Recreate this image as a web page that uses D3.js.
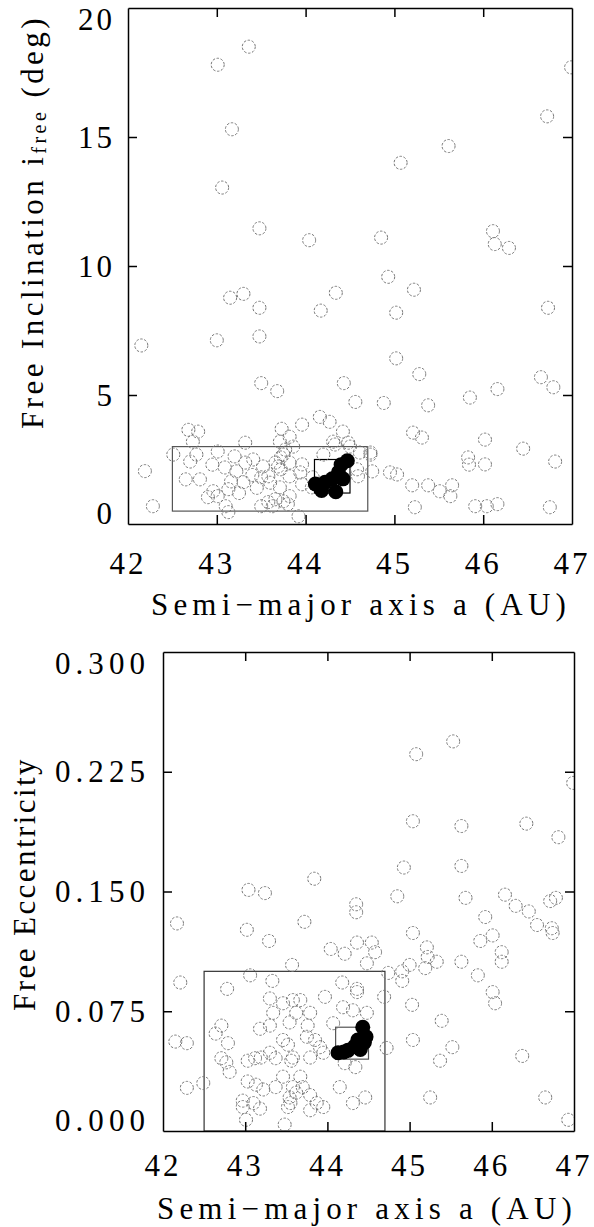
<!DOCTYPE html>
<html>
<head>
<meta charset="utf-8">
<script src="https://cdn.jsdelivr.net/npm/d3@7"></script>
<style>
  body { margin: 0; background: #fff; }
  svg { display: block; }
  text { font-family: "Liberation Serif", "DejaVu Serif", serif; fill: #000; }
</style>
</head>
<body>
<svg width="594" height="1227"></svg>
<script>
// semi-major axis ticks, shared by both panels
var aTicks = [42, 43, 44, 45, 46, 47];
var incTicks = [0, 5, 10, 15, 20];
var eccTicks = [0, 0.075, 0.15, 0.225, 0.3];

// top panel: [a (AU), free inclination (deg)]
var incOpen = [
  [43.36,18.5],[43.01,17.8],[46.99,17.7],[46.72,15.8],[43.17,15.3],[45.61,14.65],[45.07,14.0],[43.06,13.04],
  [43.48,11.46],[44.04,11.0],[44.85,11.1],[46.11,11.35],[46.13,10.85],[46.29,10.7],[44.93,9.58],
  [43.15,8.77],[43.30,8.92],[44.34,8.96],[45.22,9.08],[43.48,8.38],[44.17,8.27],[45.02,8.19],[46.73,8.38],
  [42.15,6.92],[43.0,7.12],[43.48,7.27],[45.02,6.42],[45.28,5.81],[46.65,5.69],[46.79,5.3],
  [43.5,5.46],[43.68,5.15],[44.43,5.46],[46.16,5.23],[45.85,4.9],[44.88,4.69],[45.38,4.6],[44.56,4.73],
  [44.16,4.15],[43.96,3.85],[44.27,3.96],[43.73,3.69],[44.42,3.58],[44.31,3.19],[44.48,3.15],[43.82,3.38],[43.32,3.15],
  [42.68,3.65],[42.79,3.58],[42.73,3.19],[45.21,3.54],[45.31,3.35],[46.02,3.27],[46.45,2.92],
  [45.83,2.58],[45.84,2.3],[46.02,2.31],[46.81,2.42],[42.19,2.05],[42.28,0.69],
  [44.95,2.0],[45.03,1.92],[45.2,1.5],[45.38,1.5],[45.51,1.27],[45.65,1.5],[45.63,1.08],
  [45.23,0.65],[45.91,0.69],[46.04,0.69],[46.16,0.77],[46.75,0.65],[44.73,2.69],[44.75,2.04],[44.59,1.85],
  [42.51,2.69],[42.77,2.69],[42.7,2.42],[43.01,2.81],[43.2,2.62],[43.32,2.38],[43.41,2.5],[43.52,2.23],[43.66,2.38],[43.72,2.58],
  [43.09,2.19],[43.22,2.04],[43.5,1.81],[43.58,1.85],[43.72,2.12],[42.65,1.73],[42.81,1.73],[43.16,1.65],[43.30,1.62],
  [43.13,1.35],[42.96,1.27],[42.9,1.04],[43.01,1.08],[43.1,0.69],[43.13,0.46],[43.58,0.85],[43.66,0.96],[43.5,0.69],[43.75,0.88],
  [43.77,2.88],[43.71,3.19],[43.86,3.0],[43.75,2.69],[43.69,2.23],[43.82,2.38],[43.96,2.31],[43.82,1.85],[43.94,2.0],
  [43.96,1.54],[44.07,1.42],[43.71,1.42],[43.82,1.08],[43.8,0.77],[43.92,0.3],[44.2,2.69],[44.33,3.08],[44.5,3.0],
  [44.61,2.77],[44.73,2.77],[44.58,2.12],[44.08,1.81],[43.63,0.69],[43.4,1.9],[43.45,1.4],[43.25,1.2],[42.95,2.3],[43.6,1.6]
];
var incFilled = [
  [44.11,1.55],[44.18,1.3],[44.22,1.62],[44.3,1.75],[44.34,1.25],[44.37,2.0],[44.42,1.75],[44.4,2.3],[44.47,2.45]
];

// bottom panel: [a (AU), free eccentricity]
var eccOpen = [
  [45.08,0.236],[45.53,0.244],[46.99,0.218],
  [45.04,0.194],[45.63,0.191],[46.42,0.1925],[46.81,0.184],[44.93,0.165],[45.63,0.166],[43.84,0.158],
  [43.04,0.151],[43.24,0.149],[44.85,0.147],[45.68,0.146],[46.16,0.148],[46.29,0.141],[46.45,0.1375],
  [46.71,0.144],[46.78,0.146],[44.35,0.142],[44.35,0.137],[42.17,0.13],[43.72,0.131],[45.92,0.134],
  [46.55,0.129],[46.73,0.127],[46.74,0.124],[43.02,0.126],[43.29,0.119],[45.04,0.124],[45.86,0.119],[46.01,0.1225],
  [44.04,0.114],[44.21,0.111],[44.36,0.118],[44.54,0.118],[44.58,0.112],[44.48,0.105],[43.57,0.104],
  [45.21,0.115],[45.22,0.109],[45.33,0.106],[45.0,0.104],[44.91,0.1],[44.74,0.099],[45.19,0.102],[45.63,0.106],
  [46.12,0.112],[46.12,0.106],[45.83,0.0975],[42.21,0.093],[43.06,0.0975],[43.33,0.094],[44.18,0.093],[44.36,0.089],[44.91,0.094],
  [42.78,0.089],[45.03,0.079],[45.39,0.069],[46.01,0.087],[46.04,0.08],[44.69,0.084],[45.04,0.057],[45.52,0.0525],
  [45.37,0.044],[46.37,0.047],[44.72,0.052],[45.25,0.021],[46.65,0.021],[46.93,0.007],
  [42.15,0.056],[42.29,0.055],[42.29,0.027],[42.49,0.03],
  [43.3,0.083],[43.46,0.08],[43.58,0.082],[43.62,0.074],[43.34,0.074],[43.54,0.068],[43.18,0.064],[43.3,0.066],
  [42.71,0.066],[42.64,0.061],[42.79,0.055],[43.46,0.057],[43.52,0.054],[42.71,0.0456],[42.77,0.043],[42.81,0.037],
  [43.03,0.044],[43.12,0.0456],[43.19,0.046],[43.3,0.049],[43.37,0.0456],[43.56,0.044],
  [43.03,0.031],[43.13,0.029],[43.22,0.026],[42.97,0.019],[43.1,0.0175],[43.18,0.014],[42.97,0.015],[43.01,0.007],
  [43.46,0.034],[43.37,0.0275],[43.54,0.021],[43.52,0.015],[43.62,0.024],[43.48,0.004],
  [44.36,0.087],[43.97,0.084],[43.67,0.082],[43.79,0.074],[44.19,0.0775],[44.31,0.0756],[44.48,0.074],
  [44.07,0.0675],[43.76,0.066],[43.75,0.059],[43.85,0.057],[43.91,0.0525],[43.95,0.049],[43.79,0.046],[43.58,0.046],
  [44.21,0.0425],[44.34,0.04],[44.15,0.0275],[44.31,0.0175],[44.46,0.021],
  [43.67,0.034],[43.7,0.0275],[43.79,0.0225],[43.87,0.0175],[43.79,0.013],[43.95,0.015],[43.58,0.0275],[43.55,0.0175]
];
var eccFilled = [
  [44.13,0.049],[44.2,0.0495],[44.25,0.0505],[44.33,0.053],[44.37,0.057],[44.45,0.0555],[44.47,0.059],[44.43,0.065],[44.4,0.051]
];

// boxes: [a0, a1, y0, y1, colour]
var incBoxes = [[42.5, 44.7, 0.5, 3.0, "#555"], [44.1, 44.5, 1.2, 2.5, "#000"]];
var eccBoxes = [[42.5, 44.7, 0, 0.1, "#333"], [44.1, 44.5, 0.045, 0.065, "#555"]];

var svg = d3.select("svg");

// stretch a text's spacing so it spans a given width, like the wide plot font
function fitText(sel, target) {
    var node = sel.node();
    var n = node.getNumberOfChars();
    var len = node.getComputedTextLength();
    sel.style("letter-spacing", ((target - len) / n) + "px");
}

function drawPanel(opt) {
    var x = d3.scaleLinear().domain([42, 47]).range([opt.left, opt.right]);
    var y = d3.scaleLinear().domain(opt.yDomain).range([opt.bottom, opt.top]);
    var g = svg.append("g");

    // boxes
    opt.boxes.forEach(function (b) {
        g.append("rect")
            .attr("x", x(b[0]))
            .attr("y", y(b[3]))
            .attr("width", x(b[1]) - x(b[0]))
            .attr("height", y(b[2]) - y(b[3]))
            .attr("fill", "none")
            .attr("stroke", b[4])
            .attr("stroke-width", 1.2);
    });

    var clipId = "clip" + opt.top;
    svg.append("clipPath").attr("id", clipId).append("rect")
        .attr("x", opt.left).attr("y", opt.top)
        .attr("width", opt.right - opt.left).attr("height", opt.bottom - opt.top);

    var pts = g.append("g").attr("clip-path", "url(#" + clipId + ")");
    pts.selectAll("circle.open")
        .data(opt.open)
        .enter().append("circle")
        .attr("class", "open")
        .attr("cx", function (d) { return x(d[0]); })
        .attr("cy", function (d) { return y(d[1]); })
        .attr("r", 6.5)
        .attr("fill", "none")
        .attr("stroke", "#777")
        .attr("stroke-width", 1)
        .attr("stroke-dasharray", "2.5,1.6");
    pts.selectAll("circle.filled")
        .data(opt.filled)
        .enter().append("circle")
        .attr("class", "filled")
        .attr("cx", function (d) { return x(d[0]); })
        .attr("cy", function (d) { return y(d[1]); })
        .attr("r", 7.5)
        .attr("fill", "#000");

    // inward ticks on all four sides
    var inner = 9;
    var xIn = aTicks.slice(1, -1);
    var yIn = opt.yTicks.slice(1, -1);
    g.append("g").attr("transform", "translate(0," + opt.bottom + ")")
        .call(d3.axisBottom(x).tickValues(xIn).tickSize(-inner).tickSizeOuter(0).tickFormat(""));
    g.append("g").attr("transform", "translate(0," + opt.top + ")")
        .call(d3.axisTop(x).tickValues(xIn).tickSize(-inner).tickSizeOuter(0).tickFormat(""));
    g.append("g").attr("transform", "translate(" + opt.left + ",0)")
        .call(d3.axisLeft(y).tickValues(yIn).tickSize(-inner).tickSizeOuter(0).tickFormat(""));
    g.append("g").attr("transform", "translate(" + opt.right + ",0)")
        .call(d3.axisRight(y).tickValues(yIn).tickSize(-inner).tickSizeOuter(0).tickFormat(""));
    g.selectAll(".domain").attr("stroke", "#000").attr("stroke-width", 1.5);
    g.selectAll(".tick line").attr("stroke", "#000").attr("stroke-width", 1.5);

    // tick labels
    g.selectAll("text.xl")
        .data(aTicks)
        .enter().append("text")
        .attr("class", "xl")
        .attr("x", function (d) { return x(d); })
        .attr("y", opt.xLabelY)
        .attr("text-anchor", "middle")
        .attr("dominant-baseline", "central")
        .style("font-size", "31px")
        .style("letter-spacing", "3px")
        .text(function (d) { return d; });
    g.selectAll("text.yl")
        .data(opt.yTicks)
        .enter().append("text")
        .attr("class", "yl")
        .attr("x", opt.left - 13)
        .attr("y", function (d) { return Math.max(opt.top + 11, Math.min(opt.bottom - 11, y(d))); })
        .attr("text-anchor", "end")
        .attr("dominant-baseline", "central")
        .style("font-size", "31px")
        .style("letter-spacing", "3px")
        .text(opt.yFormat)
        .each(function () { if (opt.yLabelLen) fitText(d3.select(this), opt.yLabelLen); });

    // x title
    var xt = g.append("text")
        .attr("x", opt.xTitleX)
        .attr("y", opt.xTitleY)
        .attr("text-anchor", "middle")
        .attr("dominant-baseline", "central")
        .style("font-size", "31px")
        .text("Semi\u2212major axis a (AU)");
    fitText(xt, 420);

    // y title
    var yt = g.append("text")
        .attr("transform", "translate(" + opt.yTitleX + "," + opt.yTitleY + ") rotate(-90)")
        .attr("text-anchor", "middle")
        .attr("dominant-baseline", "central")
        .style("font-size", "31px");
    opt.yTitle(yt);
    fitText(yt, opt.yTitleLen);
}

drawPanel({
    left: 128, right: 572, top: 8, bottom: 524,
    yDomain: [0, 20], yTicks: incTicks, yFormat: function (d) { return d; },
    open: incOpen, filled: incFilled, boxes: incBoxes,
    xLabelY: 563, xTitleX: 361, xTitleY: 604,
    yTitleX: 32, yTitleY: 222, yTitleLen: 414,
    yTitle: function (t) {
        t.append("tspan").text("Free Inclination i");
        t.append("tspan").style("font-size", "20px").attr("dy", 7).text("free");
        t.append("tspan").attr("dy", -7).text(" (deg)");
    }
});

drawPanel({
    left: 163, right: 574, top: 652, bottom: 1131,
    yDomain: [0, 0.3], yTicks: eccTicks, yFormat: d3.format(".3f"), yLabelLen: 110,
    open: eccOpen, filled: eccFilled, boxes: eccBoxes,
    xLabelY: 1165, xTitleX: 367, xTitleY: 1208,
    yTitleX: 24, yTitleY: 884, yTitleLen: 254,
    yTitle: function (t) { t.text("Free Eccentricity"); }
});
</script>
</body>
</html>
